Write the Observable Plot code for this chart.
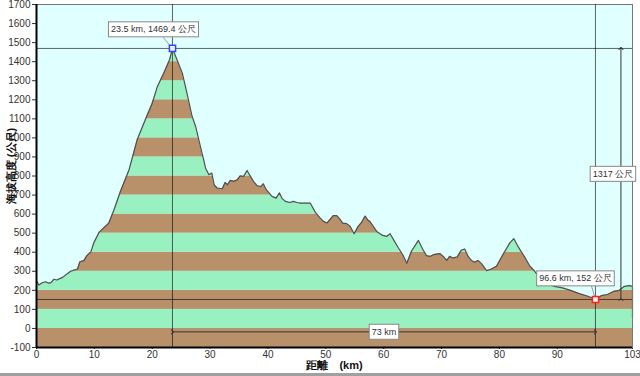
<!DOCTYPE html>
<html><head><meta charset="utf-8">
<script src="https://cdn.jsdelivr.net/npm/d3@7"></script>
<script src="https://cdn.jsdelivr.net/npm/@observablehq/plot@0.6"></script>
<style>
html,body{margin:0;padding:0;background:#fff;}
#chart{width:640px;height:373px;border-bottom:3px solid #a0a0a0;overflow:hidden;}
</style></head><body><div id="chart"></div>
<script>
// elevation profile (km, metres)
const distKm = [0,0.4,1.0,1.6,2.0,2.5,3.0,3.5,4.5,5.9,7.1,7.5,8.2,8.7,9.4,9.9,10.8,12.5,13.4,14.5,16.0,17.4,18.8,20.0,20.9,22.0,23.0,23.5,24.3,25.2,26.0,26.9,27.5,28.6,28.9,29.2,29.8,30.3,30.7,31.2,32.1,32.6,33.0,33.5,34.1,34.7,35.2,35.8,36.4,36.8,37.5,38.1,38.8,39.2,39.7,40.7,41.4,42.0,42.4,43.0,43.8,44.4,45.0,45.6,47.3,48.2,49.0,49.6,50.2,50.7,51.3,51.9,52.5,52.9,53.6,54.2,54.9,55.6,56.2,56.8,57.3,57.6,58.8,59.7,60.5,61.1,61.7,62.5,63.3,64.0,64.8,66.0,66.8,67.4,68.0,68.6,69.7,70.3,70.9,71.4,72.0,72.7,73.4,74.0,74.6,75.2,75.7,76.3,76.9,77.8,78.6,79.5,80.6,81.8,82.5,83.2,84.3,85.2,86.1,86.9,88.1,89.5,90.9,92.3,93.8,95.3,96.6,97.6,98.7,99.8,100.7,101.6,102.5,103.0,103.0];
const elevM  = [250,228,240,245,238,240,258,254,268,300,312,350,356,382,402,449,504,553,623,719,833,990,1095,1182,1270,1340,1410,1469,1409,1340,1235,1112,1060,920,885,842,807,815,754,737,733,766,754,777,772,780,801,798,829,807,772,749,745,759,728,693,684,711,684,667,661,667,661,658,658,609,580,562,553,571,592,592,571,553,550,536,497,536,557,590,567,562,509,490,483,497,466,425,387,342,405,462,413,382,378,387,393,378,357,378,370,375,410,417,378,356,347,357,340,303,312,326,387,449,471,431,378,330,300,265,239,221,213,200,183,169,152,172,178,195,200,221,225,221,55];

const xTicks = [0,10,20,30,40,50,60,70,80,90,103];
const yTicks = [-100,0,100,200,300,400,500,600,700,800,900,1000,1100,1200,1300,1400,1500,1600,1700];
const bandLows = [-100,0,100,200,300,400,500,600,700,800,900,1000,1100,1200,1300,1400];

const peakPoint = [{km: 23.5, m: 1469.4, label: "23.5 km, 1469.4 公尺"}];
const lowPoint  = [{km: 96.6, m: 152, label: "96.6 km, 152 公尺"}];
const distLabel = ["73 km"];
const riseLabel = ["1317 公尺"];
const dimDistY = -18;      // elevation at which the distance dimension line is drawn
const dimRiseX = 101.0;    // km at which the rise dimension line is drawn
const yLabel = "海拔高度 (公尺)";
const xLabel = "距離　(km)";

const bg = "#e0ffff", brown = "#b8916a", green = "#99f0c0";

const profile = distKm.map((d, i) => ({km: d, m: elevM[i]}));
const xMin = d3.min(distKm), xMax = d3.max(distKm);
const yMax = d3.max(yTicks);
const bands = bandLows.map(l => ({lo: l, hi: l + 100, fill: Math.abs(l / 100) % 2 === 1 ? brown : green}));
const P = peakPoint[0], L = lowPoint[0];
const callout = {fill: "#333", fontSize: 9};
const calloutTexts = new Set([P.label, L.label, ...distLabel, ...riseLabel]);

const svg = Plot.plot({
  width: 640, height: 373,
  marginLeft: 36, marginRight: 8, marginTop: 4, marginBottom: 26,
  style: {fontFamily: "Liberation Sans, Arial, sans-serif", fontSize: "10px", color: "#333", background: "white"},
  x: {domain: [xMin, xMax], ticks: xTicks, tickSize: 2, tickPadding: 1, label: null, tickFormat: d => String(d)},
  y: {domain: [d3.min(yTicks), yMax], ticks: yTicks, tickSize: 4, tickPadding: 2, label: null, tickFormat: d => String(d)},
  marks: [
    Plot.frame({fill: bg}),
    Plot.rect(bands, {x1: xMin, x2: xMax, y1: "lo", y2: "hi", fill: "fill"}),
    Plot.areaY(profile, {x: "km", y1: "m", y2: yMax, fill: bg}),
    Plot.line(profile, {x: "km", y: "m", stroke: "#505050", strokeWidth: 1.2}),
    Plot.frame({stroke: "#777"}),
    Plot.ruleX([xMin], {stroke: "#000", strokeWidth: 2}),
    Plot.ruleY([d3.min(yTicks)], {stroke: "#000", strokeWidth: 2}),
    Plot.ruleX([P.km, L.km], {stroke: "#000", strokeOpacity: 0.6}),
    Plot.ruleY([P.m, L.m], {stroke: "#000", strokeOpacity: 0.6}),
    Plot.link([{a: P.km, b: L.km}], {x1: "a", x2: "b", y1: dimDistY, y2: dimDistY, stroke: "#333", markerStart: "arrow", markerEnd: "arrow"}),
    Plot.link([{a: L.m, b: P.m}], {x1: dimRiseX, x2: dimRiseX, y1: "a", y2: "b", stroke: "#333", markerStart: "arrow", markerEnd: "arrow"}),
    Plot.link(peakPoint, {x1: "km", y1: "m", x2: d => d.km - 1.6, y2: d => d.m + 58, stroke: "#999"}),
    Plot.link(lowPoint, {x1: "km", y1: "m", x2: d => d.km - 0.7, y2: d => d.m + 72, stroke: "#999"}),
    Plot.dot(peakPoint, {x: "km", y: "m", symbol: "square", r: 3.5, stroke: "#3344ff", fill: "#eef"}),
    Plot.dot(lowPoint, {x: "km", y: "m", symbol: "square", r: 3.5, stroke: "#ff2222", fill: "#fee"}),
    Plot.text(peakPoint, {x: "km", y: "m", text: "label", dx: -19, dy: -19, ...callout}),
    Plot.text(lowPoint, {x: "km", y: "m", text: "label", dx: -20, dy: -21, ...callout}),
    Plot.text(distLabel, {x: (P.km + L.km) / 2, y: dimDistY, text: d => d, ...callout}),
    Plot.text(riseLabel, {x: dimRiseX, y: (P.m + L.m) / 2, text: d => d, dx: -8, ...callout}),
    Plot.text([yLabel], {frameAnchor: "left", text: d => d, rotate: -90, textAnchor: "middle", dx: -25, dy: -10, fontWeight: "bold", fontSize: 11, fill: "#111"}),
    Plot.text([xLabel], {frameAnchor: "bottom", text: d => d, dy: 21, fontWeight: "bold", fontSize: 11, fill: "#111"})
  ]
});

document.getElementById("chart").appendChild(svg);
Array.from(svg.querySelectorAll("text"))
  .filter(t => calloutTexts.has(t.textContent))
  .forEach(t => {
    const b = t.getBBox();
    const r = document.createElementNS("http://www.w3.org/2000/svg", "rect");
    r.setAttribute("x", b.x - 2.5);
    r.setAttribute("y", b.y - 2.5);
    r.setAttribute("width", b.width + 5);
    r.setAttribute("height", b.height + 5);
    r.setAttribute("fill", "white");
    r.setAttribute("stroke", "#888");
    r.setAttribute("stroke-width", "1");
    const tr = t.getAttribute("transform");
    if (tr) r.setAttribute("transform", tr);
    t.parentNode.insertBefore(r, t);
  });
</script>
</body></html>
